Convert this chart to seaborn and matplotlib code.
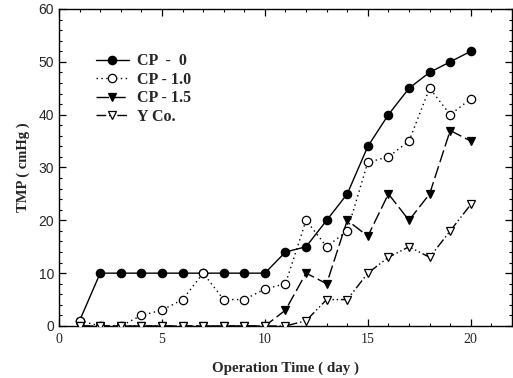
import numpy as np
import pandas as pd
import matplotlib
matplotlib.use("Agg")
import matplotlib.pyplot as plt
import seaborn as sns
from matplotlib.ticker import MultipleLocator

days = list(range(1, 21))
cp0 = [1, 10, 10, 10, 10, 10, 10, 10, 10, 10, 14, 15, 20, 25, 34, 40, 45, 48, 50, 52]
cp10 = [1, 0, 0, 2, 3, 5, 10, 5, 5, 7, 8, 20, 15, 18, 31, 32, 35, 45, 40, 43]
cp15 = [0, 0, 0, 0, 0, 0, 0, 0, 0, 0, 3, 10, 8, 20, 17, 25, 20, 25, 37, 35]
yco = [0, 0, 0, 0, 0, 0, 0, 0, 0, 0, 0, 1, 5, 5, 10, 13, 15, 13, 18, 23]
labels = ["CP  -  0", "CP - 1.0", "CP - 1.5", "Y Co."]

sns.set_style("ticks")
plt.rcParams["font.family"] = ["Liberation Serif", "DejaVu Serif"]

fig = plt.figure(figsize=(5.13, 3.78), dpi=100)
ax = fig.add_axes([0.115, 0.1376, 0.883, 0.8386])

styles = [
    dict(y=cp0, label=labels[0], marker="o", mfc="black", ls="-"),
    dict(y=cp10, label=labels[1], marker="o", mfc="white", ls=(0, (1, 2.5))),
    dict(y=cp15, label=labels[2], marker="v", mfc="black", ls=(0, (9, 3))),
    dict(y=yco, label=labels[3], marker="v", mfc="white", ls=(0, (7, 2, 1, 2, 1, 2))),
]
for s in styles:
    df = pd.DataFrame({"day": days, "tmp": s["y"]})
    sns.lineplot(data=df, x="day", y="tmp", ax=ax, color="black", lw=1.0,
                 linestyle=s["ls"], marker=s["marker"], markersize=6,
                 markerfacecolor=s["mfc"], markeredgecolor="black",
                 markeredgewidth=0.9, label=s["label"], zorder=3)

ax.set_xlim(0, 22)
ax.set_ylim(0, 60)
ax.xaxis.set_major_locator(MultipleLocator(5))
ax.xaxis.set_minor_locator(MultipleLocator(1))
ax.yaxis.set_major_locator(MultipleLocator(10))
ax.yaxis.set_minor_locator(MultipleLocator(2))
ax.tick_params(which="both", direction="in", top=True, right=True, color="black")
ax.tick_params(which="major", length=5, width=0.9)
ax.tick_params(which="minor", length=2.5, width=0.8)
for lab in ax.get_xticklabels():
    lab.set_fontfamily("Liberation Serif")
    lab.set_fontsize(10)
for lab in ax.get_yticklabels():
    lab.set_fontfamily("Liberation Sans")
    lab.set_fontsize(10)
ax.tick_params(axis="x", pad=5)
for sp in ax.spines.values():
    sp.set_color("black")
    sp.set_linewidth(1.0)

ax.set_xlabel("Operation Time ( day )", fontsize=10.8, fontweight="bold", labelpad=11)
ax.set_ylabel("TMP ( cmHg )", fontsize=10.5, fontweight="bold", labelpad=6)

leg = ax.legend(loc="upper left", bbox_to_anchor=(0.049, 0.905), frameon=False,
                prop={"family": "Liberation Serif", "weight": "bold", "size": 11.5},
                handlelength=2.1, handletextpad=0.5, labelspacing=0.15)

fig.savefig("out.png", dpi=100)
